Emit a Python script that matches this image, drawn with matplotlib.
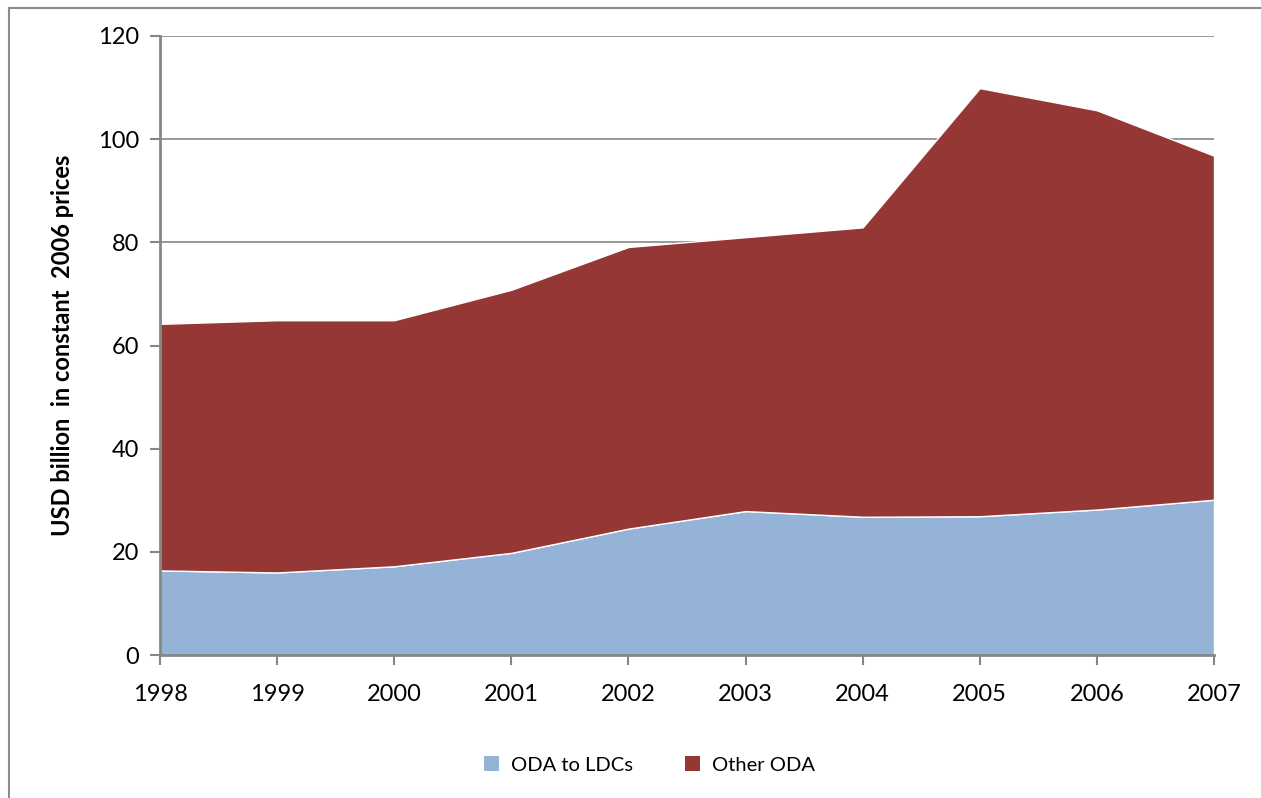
import matplotlib
matplotlib.use("Agg")
import matplotlib.pyplot as plt
from matplotlib.patches import Rectangle, Patch

years = [1998, 1999, 2000, 2001, 2002, 2003, 2004, 2005, 2006, 2007]
oda_ldc = [16.4, 16.0, 17.2, 19.8, 24.5, 27.9, 26.8, 26.9, 28.2, 30.1]
total_oda = [64.2, 64.9, 64.9, 70.8, 79.1, 81.0, 82.9, 109.9, 105.6, 96.8]
other_oda = [t - l for t, l in zip(total_oda, oda_ldc)]
yticks = [0, 20, 40, 60, 80, 100, 120]

plt.rcParams['font.family'] = ['Lato', 'DejaVu Sans']

fig = plt.figure(figsize=(12.61, 7.98), dpi=100)
ax = fig.add_axes([160/1261, 1-655/798, (1214-160)/1261, (655-36)/798])

blue = '#95B3D7'
red = '#953735'
grey = '#868686'

ax.stackplot(years, oda_ldc, other_oda, colors=[blue, red],
             edgecolor='white', linewidth=1.0, zorder=3)

ax.set_xlim(years[0], years[-1])
ax.set_ylim(0, 120)
ax.set_yticks(yticks)
ax.set_xticks(years)
ax.grid(axis='y', color=grey, linewidth=1.2, zorder=0)
ax.set_axisbelow(True)

for s in ['top', 'right']:
    ax.spines[s].set_visible(False)
for s in ['left', 'bottom']:
    ax.spines[s].set_color(grey)
    ax.spines[s].set_linewidth(2)
    ax.spines[s].set_zorder(5)

ax.tick_params(axis='both', colors=grey, length=7, width=1.5, labelsize=17,
               labelcolor='black')
ax.tick_params(axis='x', pad=14)
ax.tick_params(axis='y', pad=8)

ax.set_ylabel('USD billion  in constant  2006 prices', fontsize=17,
              fontweight='bold', labelpad=0)
ax.yaxis.set_label_coords(-(160 - 74) / (1214 - 160), (655 - 345) / (655 - 36))

handles = [Patch(facecolor=blue, label='ODA to LDCs'),
           Patch(facecolor=red, label='Other ODA')]
fig.legend(handles=handles, loc='center', bbox_to_anchor=(0.515, 1-765/798),
           ncol=2, frameon=False, fontsize=14.5, handlelength=0.75,
           handleheight=0.75, handletextpad=0.6, columnspacing=2.6)

fig.patches.append(Rectangle((9/1261, -0.05), 1.2, 1.05 - 8/798,
                             transform=fig.transFigure, fill=False,
                             edgecolor='#8c8c8c', linewidth=1.5))

fig.savefig('out.png', dpi=100)
